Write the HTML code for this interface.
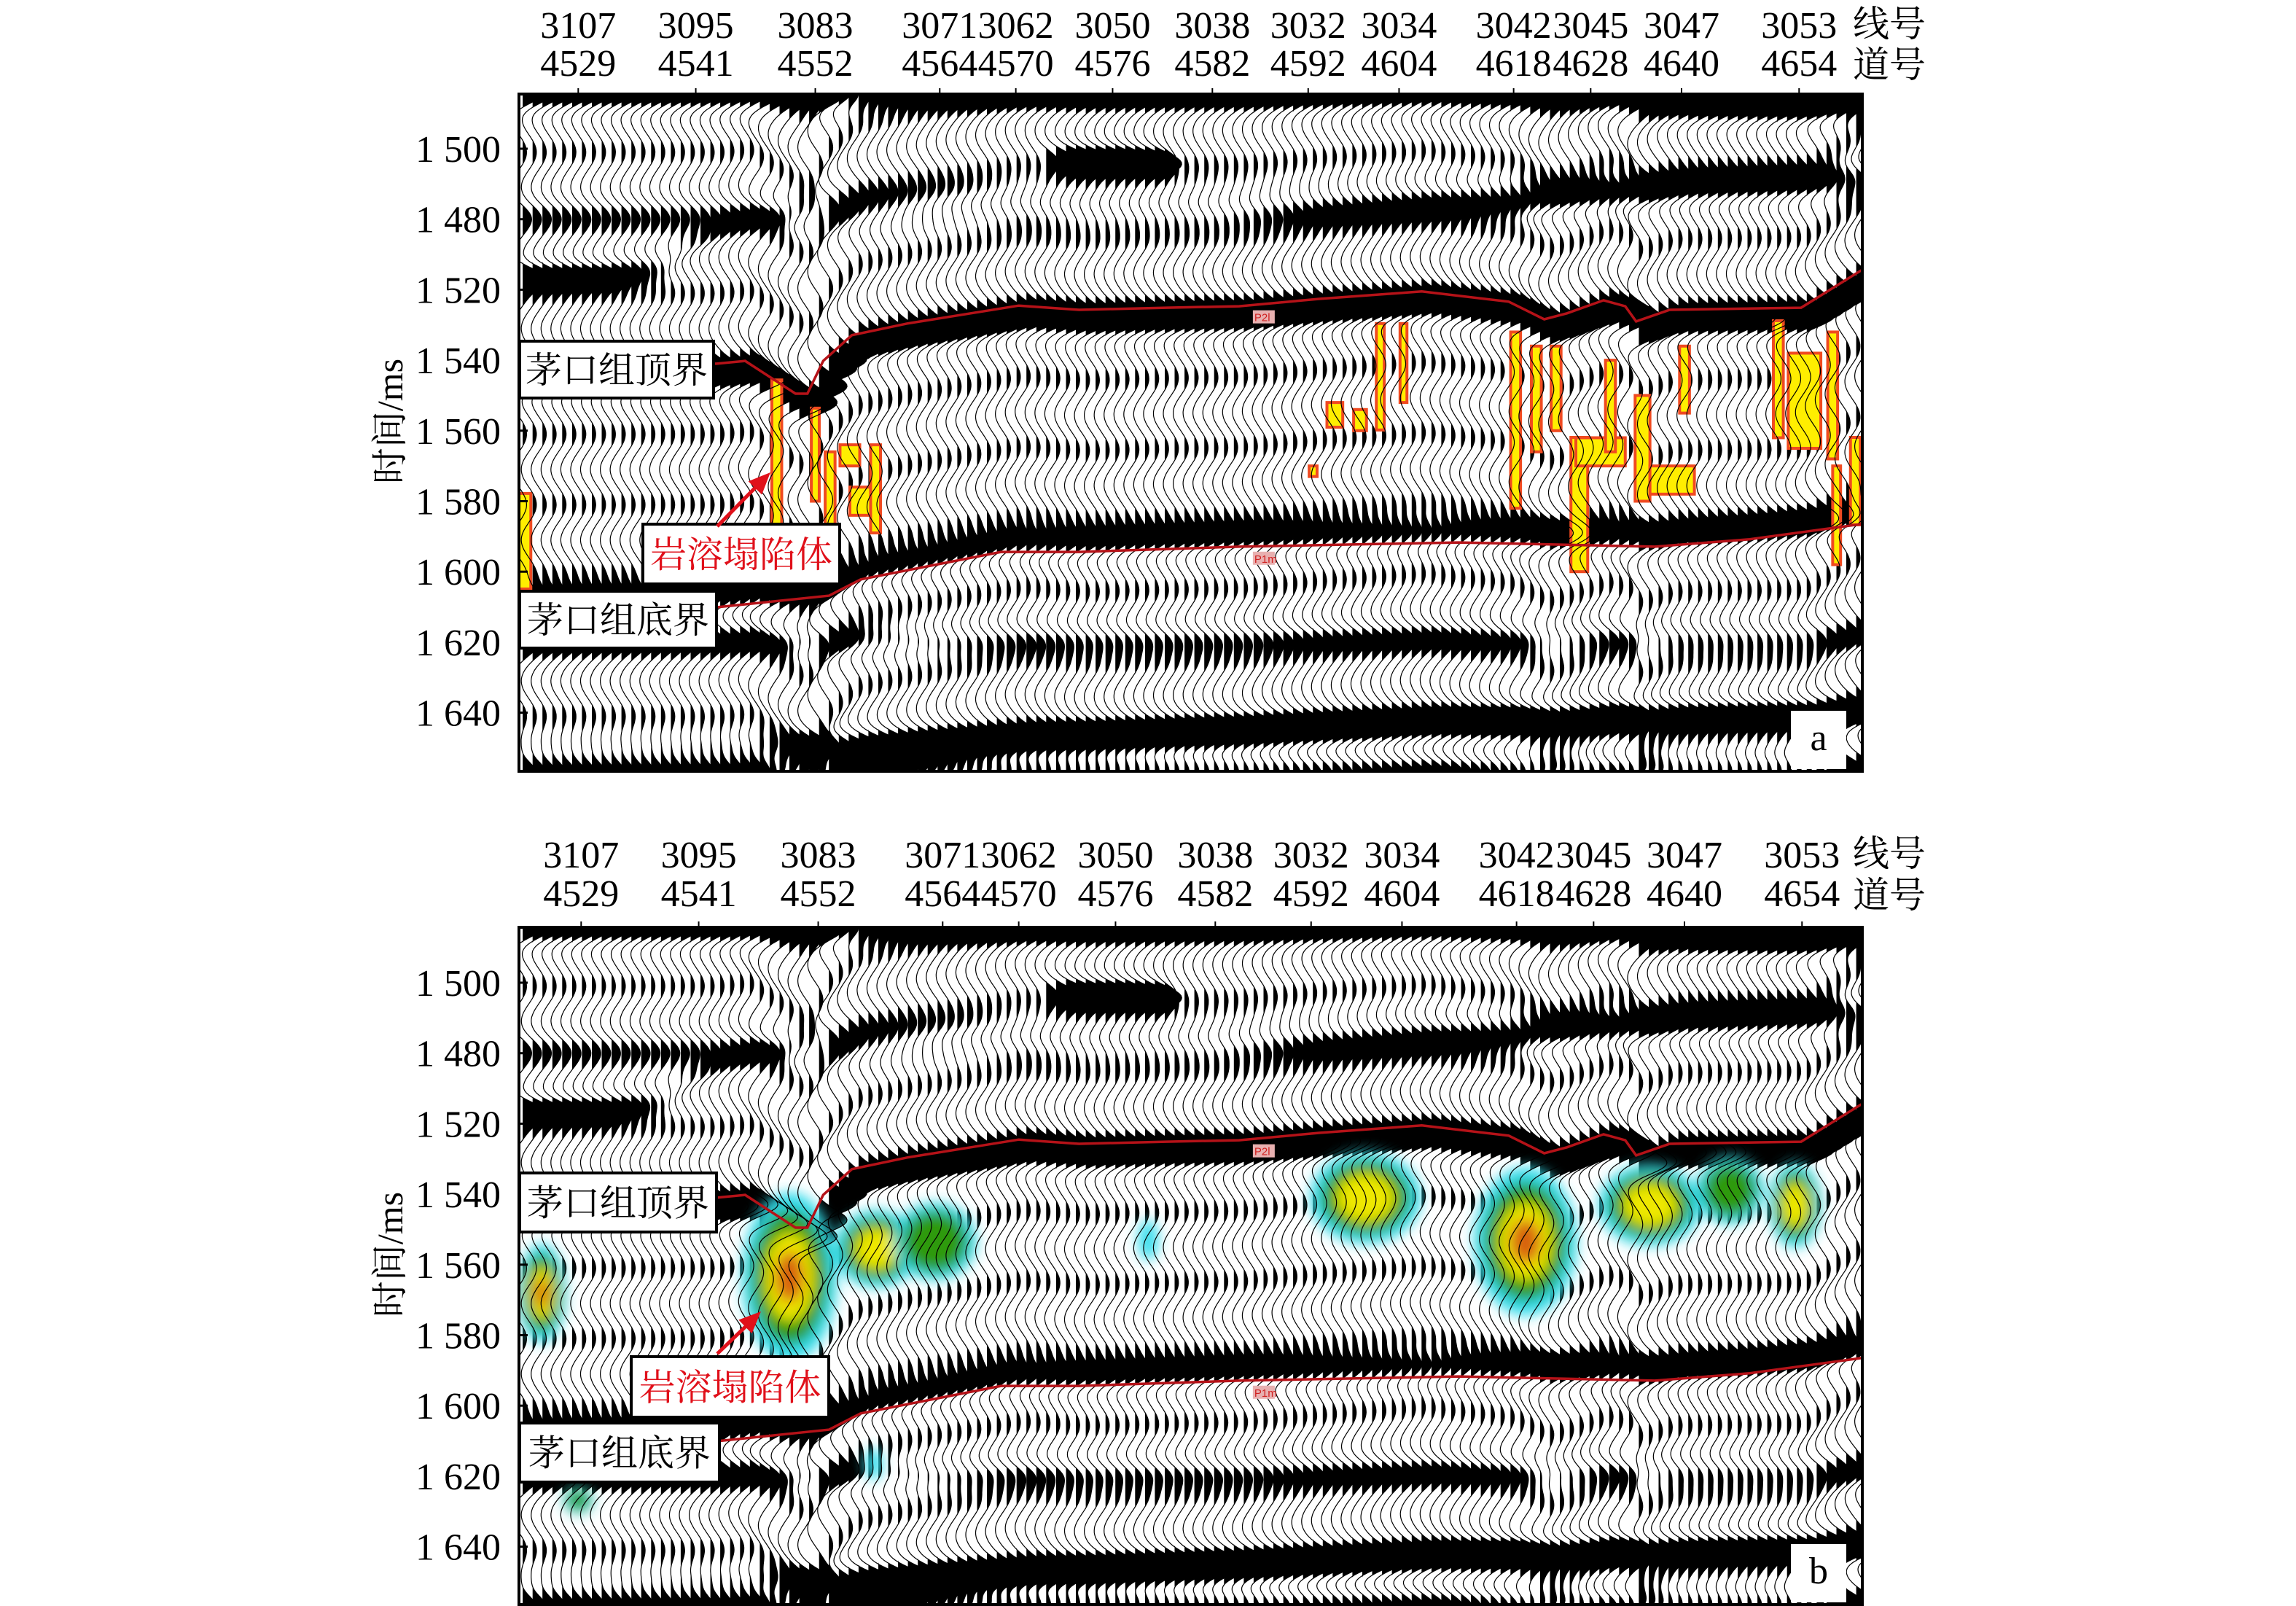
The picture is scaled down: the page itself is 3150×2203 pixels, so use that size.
<!DOCTYPE html>
<html><head><meta charset="utf-8">
<style>
html,body{margin:0;padding:0;background:#fff;}
svg{display:block;}
.num{font-family:"Liberation Serif","Noto Serif CJK SC",serif;font-size:52px;fill:#000;}
.cjk{font-family:"Liberation Serif","Noto Serif CJK SC",serif;font-size:50px;}
</style></head>
<body>
<svg id="fig" width="3150" height="2203" viewBox="0 0 3150 2203" xmlns="http://www.w3.org/2000/svg">
<defs>
<filter id="blur" x="-50%" y="-50%" width="200%" height="200%"><feGaussianBlur stdDeviation="9"/></filter>
<clipPath id="clipA"><rect x="712" y="129" width="1843" height="929"/></clipPath>
<clipPath id="clipB"><rect x="712" y="1272" width="1843" height="929"/></clipPath>
</defs>
<g id="layer"></g>
</svg>
<script>
// ---- data ----
const yTickValues=[1500,1520,1540,1560,1580,1600,1620,1640,1660];
const yTickLabels=["1 500","1 480","1 520","1 540","1 560","1 580","1 600","1 620","1 640"];
const headerIdx=[6.0,17.9,30.0,42.6,50.3,60.1,70.2,79.9,89.1,100.7,108.5,117.7,129.6];
const lineNos=["3107","3095","3083","3071","3062","3050","3038","3032","3034","3042","3045","3047","3053"];
const traceNos=["4529","4541","4552","4564","4570","4576","4582","4592","4604","4618","4628","4640","4654"];
const topHorIdx=[0,20,22.9,28.0,29.2,30.8,33.7,39.3,50.6,56.7,65.5,72.9,81.0,91.4,100.2,103.8,106.1,109.8,112.0,113.1,116.5,129.8,135.9];
const topHorT=[1561,1561,1560.2,1569.5,1569.5,1560.2,1552.9,1549.6,1544.5,1545.7,1545.1,1544.7,1542.6,1540.5,1543.4,1548.4,1546.7,1543.0,1544.7,1549.0,1545.7,1545.1,1534.5];
const botHorIdx=[0,20.0,31.4,34.6,48.8,56.7,72.9,95.1,115.0,124.6,135.9];
const botHorT=[1630.5,1630.1,1626.8,1622.2,1614.4,1614.4,1612.9,1611.7,1612.9,1610.8,1606.5];
// reflector bands: idx, T, amplitude
const band1Idx=[0,136], band1T=[1484.5,1484.5], band1Amp=[1.8,1.8];
const band2Idx=[0,8,14,20,30,42], band2T=[1536.4,1536,1533,1522,1515,1512], band2Amp=[2.2,2.0,1.0,0.6,0.7,0.5];
const band3Idx=[52,55,60,64,66], band3T=[1503.5,1503.5,1503.5,1504,1504], band3Amp=[0,2.4,2.4,2.0,0];
const band4Idx=[70,80,100,118,136], band4T=[1519,1518,1515,1510,1508], band4Amp=[0.5,1.4,1.6,1.6,1.4];
const band5Idx=[110,118,128,136], band5T=[1488,1488,1488,1488], band5Amp=[0,1.4,1.8,1.8];
const band7Idx=[0,136], band7T=[1640,1638.5], band7Amp=[1.1,0.9];
const band8Idx=[0,25,33,56,100,136], band8T=[1670,1670,1669.8,1666.7,1662,1659.9], band8Amp=[0.7,1.0,2.2,2.2,2.2,2.2];
const band9Idx=[0,136], band9T=[1676,1676], band9Amp=[1.3,1.3];
const horTopAmp=2.3, horBotAmp=1.7;
// anomaly patches panel a: [idx0, idx1, T0, T1]
const patchesA=[[0,1.2,1597.8,1624.9],[25.6,26.6,1565.6,1610],[29.6,30.4,1573.6,1600],[31,32,1586,1608],[33.5,36.5,1596,1604],[35.6,36.6,1584,1609],[32.5,34.5,1584,1590],
 [81.8,83.4,1572,1579],[84.5,85.8,1574,1580],[86.8,87.6,1549.6,1579.8],[89.2,89.9,1549.6,1572],[80,80.8,1590,1593],
 [100.4,101.4,1552,1602],[102.5,103.5,1556,1586],[104.5,105.5,1556,1580],[106.5,108.2,1581.9,1620],[107,112,1582,1590],[110,111,1560,1586],[113,114.5,1570,1600],[114.5,119,1590,1598],[117.5,118.5,1556,1575],
 [127,128,1548.8,1582],[128.5,131.8,1558,1585],[132.5,133.5,1552,1588],[134.8,135.8,1581.9,1606.7],[133,133.8,1590,1618]];
// attribute blobs panel b: idx, T, rIdx, rT, intensity
const blobIdx=[2.3,27.4,36.2,42.1,63.7,85.7,101.9,114.5,122.6,129.2,35.9,6.0];
const blobT=[1588.1,1583.5,1575.5,1573.4,1573.0,1561.0,1573.4,1563.1,1558.9,1563.1,1636.5,1646.8];
const blobRIdx=[2.4,4.8,4.2,4.2,1.0,5.6,5.2,5.2,3.4,2.6,0.9,1.5];
const blobRT=[14,24,11,11,5.8,13,21,11.5,9.5,12,4.5,3.7];
const blobInt=[1,1,0.65,0.5,0.3,0.7,1,0.7,0.5,0.6,0.25,0.35];

// ---- geometry ----
const X0=712, X1=2555, DX=(X1-X0)/136;
const panels=[{top:129,y1500:204,name:'a',hdr:[52,104],clip:'clipA'},{top:1272,y1500:1348,name:'b',hdr:[1190,1243],clip:'clipB'}];
const PY=96.7/20;
const K=16, TH=0.32;
const xS=i=>X0+i*DX;
const NS='http://www.w3.org/2000/svg';
const layer=document.getElementById('layer');
function mk(tag,attrs,parent){const e=document.createElementNS(NS,tag);for(const k in attrs)e.setAttribute(k,attrs[k]);(parent||layer).appendChild(e);return e;}
function interp(xs,ys,x){if(x<=xs[0])return ys[0];for(let i=1;i<xs.length;i++){if(x<=xs[i]){const f=(x-xs[i-1])/(xs[i]-xs[i-1]);return ys[i-1]+f*(ys[i]-ys[i-1]);}}return ys[ys.length-1];}
const bands=[[band1Idx,band1T,band1Amp],[band2Idx,band2T,band2Amp],[band3Idx,band3T,band3Amp],[band4Idx,band4T,band4Amp],[band5Idx,band5T,band5Amp],[band7Idx,band7T,band7Amp],[band8Idx,band8T,band8Amp],[band9Idx,band9T,band9Amp]];
function sig(i,T){
  const th=interp(topHorIdx,topHorT,i), bh=interp(botHorIdx,botHorT,i);
  let s=0.65*Math.cos(2*Math.PI*(T-(th-1560))/20);
  for(const b of bands){const tb=interp(b[0],b[1],i),a=interp(b[0],b[2],i);s+=a*Math.exp(-Math.pow((T-tb)/4,2));}
  s+=horTopAmp*Math.exp(-Math.pow((T-(th+3))/4,2));
  s+=horBotAmp*Math.exp(-Math.pow((T-(bh-3))/4,2));
  return s;
}

panels.forEach(p=>{
  const yS=T=>p.y1500+(T-1500)*PY;
  const T0=1500+(p.top-p.y1500)/PY, T1=1500+(p.top+929-p.y1500)/PY;
  const g=mk('g',{'clip-path':'url(#'+p.clip+')'});
  
  
  mk('rect',{x:X0,y:p.top,width:1843,height:929,fill:'#fff'},g);
  const fills=mk('g',{fill:'#000'},g);
  const mid=mk('g',{},g);
  const lines=mk('g',{fill:'none',stroke:'#000','stroke-width':1.2},g);
  for(let i=0;i<=136;i++){
    const bx=xS(i);let fp='',lp='';
    const bt=bx+TH*K;
    for(let T=T0-1;T<=T1+1;T+=0.6){
      let d=sig(i,T)*K;d=Math.max(-18,Math.min(46,d));
      const y=yS(T).toFixed(1);
      lp+=(lp?'L':'M')+(bx+d).toFixed(1)+' '+y;
      fp+=(fp?'L':'M')+Math.max(bt,bx+d).toFixed(1)+' '+y;
    }
    fp+='L'+bt.toFixed(1)+' '+yS(T1+1).toFixed(1)+'L'+bt.toFixed(1)+' '+yS(T0-1).toFixed(1)+'Z';
    const f=mk('path',{d:fp},fills);
    
    
    const l=mk('path',{d:lp},lines);
    
    
  }
  if(p.name==='a'){
    patchesA.forEach(q=>{
      const r=mk('rect',{x:xS(q[0]),y:yS(q[2]),width:(q[1]-q[0])*DX,height:(q[3]-q[2])*PY,fill:'#ffee00',stroke:'#f04a20','stroke-width':4},mid);
      
      
    });
  } else {
    const cols=['#30dcec','#2e9a0e','#eee800','#d8600a'];
    const sc=[1,0.8,0.52,0.3];
    const bg=mk('g',{filter:'url(#blur)'},mid);
    blobIdx.forEach((bi,k)=>{
      const n=blobInt[k]>=0.9?4:blobInt[k]>=0.55?3:blobInt[k]>=0.35?2:1;
      for(let j=0;j<n;j++){
        const e=mk('ellipse',{cx:xS(bi),cy:yS(blobT[k]),rx:blobRIdx[k]*DX*sc[j],ry:blobRT[k]*PY*sc[j],fill:cols[j]},bg);
        
        
      }
    });
  }
  const hp=(xs,ts)=>xs.map((x,k)=>(k?'L':'M')+xS(x).toFixed(1)+' '+yS(ts[k]).toFixed(1)).join('');
  const h1=mk('path',{d:hp(topHorIdx,topHorT),fill:'none',stroke:'#b51218','stroke-width':3.5},g);
  
  
  const h2=mk('path',{d:hp(botHorIdx,botHorT),fill:'none',stroke:'#b51218','stroke-width':3.5},g);
  
  
  [['P2l',interp(topHorIdx,topHorT,74.3)+1.5],['P1m',interp(botHorIdx,botHorT,74.3)+1.5]].forEach(tg=>{
    const r=mk('rect',{x:xS(74.3),y:yS(tg[1]),width:30,height:18,fill:'#e8b0b0'},g);
    
    
    const t=mk('text',{x:xS(74.3)+2,y:yS(tg[1])+15,'font-size':15,fill:'#d02020','font-family':'Liberation Sans, sans-serif'},g);
    t.textContent=tg[0];
    
    
  });
  const fr=mk('rect',{x:X0,y:p.top,width:1843,height:929,fill:'none',stroke:'#000','stroke-width':4});
  
  
  yTickValues.forEach((v,k)=>{
    const y=yS(v);
    const tk=mk('line',{x1:X0,x2:X0+12,y1:y,y2:y,stroke:'#000','stroke-width':3});
    
    
    const t=mk('text',{x:687,y:y+18,'text-anchor':'end',class:'num'});
    t.textContent=yTickLabels[k];
    
    
  });
  const yt=mk('text',{x:0,y:0,class:'cjk','text-anchor':'middle',transform:'translate(552,'+(p.top+449)+') rotate(-90)'});
  yt.textContent='时间/ms';
  
  
  headerIdx.forEach((hi,k)=>{
    const x=xS(hi)+(p.name==='b'?4:0);
    const tk=mk('line',{x1:x,x2:x,y1:p.top-8,y2:p.top,stroke:'#000','stroke-width':2});
    
    
    const t1=mk('text',{x:x,y:p.hdr[0],'text-anchor':'middle',class:'num'});
    t1.textContent=lineNos[k];
    
    
    const t2=mk('text',{x:x,y:p.hdr[1],'text-anchor':'middle',class:'num'});
    t2.textContent=traceNos[k];
    
    
  });
  const l1=mk('text',{x:2542,y:p.hdr[0]-2,class:'cjk'});l1.textContent='线号';
  
  
  const l2=mk('text',{x:2542,y:p.hdr[1]+2,class:'cjk'});l2.textContent='道号';
  
  
  const boxes=p.name==='a'?[[713,468,266,78,'茅口组顶界','#000','top-label'],[882,719,270,82,'岩溶塌陷体','#e0101a','karst-label'],[713,811,270,78,'茅口组底界','#000','bottom-label']]
    :[[713,1609,270,81,'茅口组顶界','#000','top-label'],[866,1861,271,83,'岩溶塌陷体','#e0101a','karst-label'],[713,1952,274,81,'茅口组底界','#000','bottom-label']];
  boxes.forEach(b=>{
    const r=mk('rect',{x:b[0],y:b[1],width:b[2],height:b[3],fill:'#fff',stroke:'#000','stroke-width':4});
    
    
    const t=mk('text',{x:b[0]+b[2]/2,y:b[1]+b[3]/2+18,'text-anchor':'middle',class:'cjk',fill:b[5]});
    t.textContent=b[4];
    
    
  });
  const ar=p.name==='a'?[984,722,1057,648]:[984,1857,1044,1799];
  const a1=mk('line',{x1:ar[0],y1:ar[1],x2:ar[2]-12,y2:ar[3]+12,stroke:'#e0101a','stroke-width':5});
  
  
  const ang=Math.atan2(ar[3]-ar[1],ar[2]-ar[0]);
  const hx=ar[2],hy=ar[3],L=30,W=13;
  const bxp=hx-L*Math.cos(ang),byp=hy-L*Math.sin(ang);
  const a2=mk('polygon',{points:[hx,hy,bxp+W*Math.sin(ang),byp-W*Math.cos(ang),bxp-W*Math.sin(ang),byp+W*Math.cos(ang)].join(' '),fill:'#e0101a'});
  
  
  const lb=mk('rect',{x:2457,y:p.top+846,width:76,height:80,fill:'#fff'});
  
  
  const lt=mk('text',{x:2495,y:p.top+900,'text-anchor':'middle',class:'num'});
  lt.textContent=p.name;
  
  
});
</script>
</body></html>
